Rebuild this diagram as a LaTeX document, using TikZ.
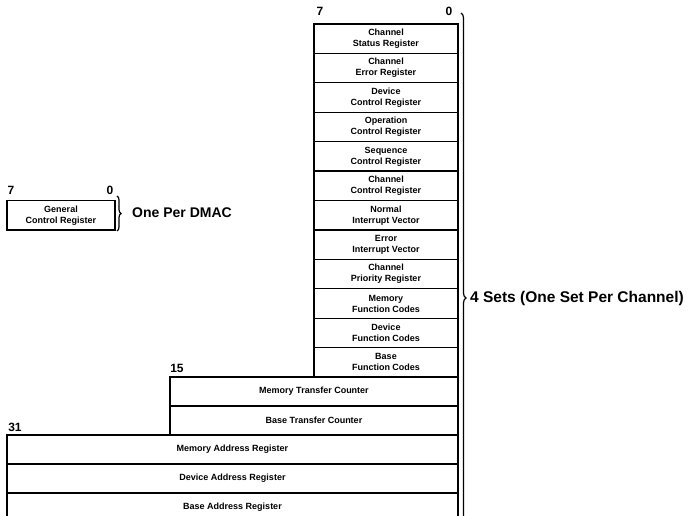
\documentclass[tikz,border=0pt]{standalone}
\usepackage{fontspec}
\setmainfont{Liberation Sans}
\usepackage{tikz}
\usetikzlibrary{decorations.pathreplacing}

\tikzset{
  reg/.style={draw, line width=1.3pt, anchor=north west, align=center, inner sep=0pt, outer sep=0pt,
    font=\bfseries\fontsize{9}{11}\selectfont},
  bitno/.style={font=\bfseries\fontsize{12}{12}\selectfont, inner sep=0pt},
  setbrace/.style={decorate, decoration={brace, amplitude=5pt}, line width=1.2pt},
  note/.style={anchor=west, inner sep=0pt, font=\bfseries\fontsize{14}{14}\selectfont}
}

\begin{document}
\begin{tikzpicture}[x=1pt, y=-1pt]
  \useasboundingbox (0,0) rectangle (689,516);
  \clip (0,0) rectangle (689,516);
  % one per DMAC
  \node[bitno] (gen7) at (11,190) {7};
  \node[bitno] (gen0) at (110,190) {0};
  \node[reg, minimum width=108, minimum height=29.42] (gencr) at (7,200.50) {General\\Control Register};
  \coordinate (gentop) at (117,196);
  \coordinate (genbot) at (117,231);
  \draw[setbrace, decoration={amplitude=4pt}] (gentop) -- (genbot);
  \node[note] (dmacnote) at (132,213) {One Per DMAC};
  % 8-bit registers
  \node[bitno] (col7) at (320,11) {7};
  \node[bitno] (col0) at (449,11) {0};
  \node[reg, minimum width=144, minimum height=29.42] (chstat) at (314,24.00) {Channel\\Status Register};
  \node[reg, minimum width=144, minimum height=29.42] (cherr) at (314,53.42) {Channel\\Error Register};
  \node[reg, minimum width=144, minimum height=29.42] (devctl) at (314,82.83) {Device\\Control Register};
  \node[reg, minimum width=144, minimum height=29.42] (opctl) at (314,112.25) {Operation\\Control Register};
  \node[reg, minimum width=144, minimum height=29.42] (seqctl) at (314,141.67) {Sequence\\Control Register};
  \node[reg, minimum width=144, minimum height=29.42] (chctl) at (314,171.08) {Channel\\Control Register};
  \node[reg, minimum width=144, minimum height=29.42] (normiv) at (314,200.50) {Normal\\Interrupt Vector};
  \node[reg, minimum width=144, minimum height=29.42] (erriv) at (314,229.92) {Error\\Interrupt Vector};
  \node[reg, minimum width=144, minimum height=29.42] (chprio) at (314,259.33) {Channel\\Priority Register};
  \node[reg, minimum width=144, minimum height=29.42] (memfc) at (314,288.75) {Memory\\Function Codes};
  \node[reg, minimum width=144, minimum height=29.42] (devfc) at (314,318.17) {Device\\Function Codes};
  \node[reg, minimum width=144, minimum height=29.42] (basefc) at (314,347.58) {Base\\Function Codes};
  % 16-bit registers
  \node[bitno] (col15) at (177,368) {15};
  \node[reg, minimum width=288, minimum height=29] (memtc) at (170,377) {Memory Transfer Counter};
  \node[reg, minimum width=288, minimum height=29] (basetc) at (170,406) {Base Transfer Counter};
  % 32-bit registers
  \node[bitno] (col31) at (15,427) {31};
  \node[reg, minimum width=451, minimum height=29] (memar) at (7,435) {Memory Address Register};
  \node[reg, minimum width=451, minimum height=29] (devar) at (7,464) {Device Address Register};
  \node[reg, minimum width=451, minimum height=29] (basear) at (7,493) {Base Address Register};
  % four sets
  \coordinate (settop) at (461,13);
  \coordinate (setbot) at (461,583);
  \draw[setbrace] (settop) -- (setbot);
  \node[note, font=\bfseries\fontsize{15.5}{15.5}\selectfont] (setsnote) at (470,298) {4 Sets (One Set Per Channel)};
\end{tikzpicture}
\end{document}
